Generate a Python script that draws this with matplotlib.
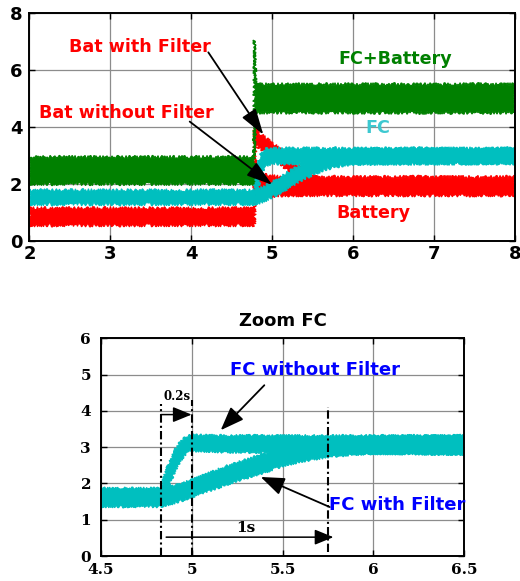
import matplotlib
matplotlib.use('Agg')
import matplotlib.pyplot as plt

plt.rcParams['font.family'] = ['DejaVu Sans']

RED = '#ff0000'
GREEN = '#008000'
CYAN = '#00bfbf'

# ---- top plot: band envelopes (lower / upper) ----
green_t = [2, 4.775, 4.78, 4.785, 4.79, 4.795, 4.80, 8]
green_lo = [2.0, 2.0, 2.0, 4.5, 4.5, 4.5, 4.5, 4.5]
green_hi = [2.95, 2.95, 7.05, 6.0, 6.05, 5.5, 5.5, 5.5]

bat_t = [2, 4.78, 4.785, 4.80, 4.85, 4.95, 5.1, 8]
bat_lo = [0.55, 0.55, 1.4, 1.45, 1.5, 1.55, 1.6, 1.6]
bat_hi = [1.15, 1.15, 2.8, 2.5, 2.35, 2.3, 2.25, 2.25]

batf_t = [4.78, 4.80, 4.90, 5.0, 5.1, 5.2, 5.3, 5.45, 5.6]
batf_lo = [1.6, 3.35, 3.15, 2.95, 2.7, 2.45, 2.25, 2.0, 1.7]
batf_hi = [3.95, 3.9, 3.65, 3.45, 3.2, 2.95, 2.7, 2.35, 2.2]

fc_t = [2, 4.78, 4.80, 4.83, 4.87, 4.92, 5.0, 8]
fc_lo = [1.29, 1.29, 1.4, 1.9, 2.4, 2.65, 2.72, 2.72]
fc_hi = [1.78, 1.78, 2.2, 2.8, 3.1, 3.22, 3.25, 3.25]

fcf_t = [4.78, 4.9, 5.0, 5.2, 5.4, 5.6, 5.8, 6.0, 8]
fcf_lo = [1.29, 1.4, 1.55, 1.85, 2.2, 2.45, 2.62, 2.7, 2.72]
fcf_hi = [1.78, 1.9, 2.05, 2.42, 2.76, 3.0, 3.15, 3.22, 3.25]

# ---- bottom plot (zoom on FC) ----
z_t = [4.5, 4.83, 4.85, 4.87, 4.90, 4.93, 4.96, 5.0, 5.2, 6.5]
z_lo = [1.36, 1.36, 1.5, 1.85, 2.25, 2.55, 2.78, 2.9, 2.86, 2.8]
z_hi = [1.87, 1.87, 2.2, 2.5, 2.85, 3.1, 3.28, 3.34, 3.32, 3.32]

zf_t = [4.83, 4.9, 5.0, 5.1, 5.2, 5.3, 5.4, 5.5, 5.6, 5.75, 5.9, 6.0, 6.5]
zf_lo = [1.36, 1.45, 1.62, 1.8, 1.98, 2.15, 2.3, 2.48, 2.6, 2.73, 2.8, 2.82, 2.8]
zf_hi = [1.87, 1.93, 2.1, 2.3, 2.5, 2.66, 2.82, 2.96, 3.07, 3.2, 3.27, 3.3, 3.33]

top_xticks = [2, 3, 4, 5, 6, 7, 8]
top_yticks = [0, 2, 4, 6, 8]
bot_xticks = [4.5, 5, 5.5, 6, 6.5]
bot_xlabels = ['4.5', '5', '5.5', '6', '6.5']
bot_yticks = [0, 1, 2, 3, 4, 5, 6]


def band(ax, t, lo, hi, color, rough=1.6):
    # closed outline: along the lower edge, back along the upper edge
    xs = list(t) + list(t)[::-1]
    ys = list(lo) + list(hi)[::-1]
    poly, = ax.fill(xs, ys, color=color, lw=0.8, zorder=2)
    poly.set_sketch_params(rough, 2.0, 3.0)   # ragged, noisy-looking edges
    return poly


def style(ax):
    ax.grid(True, color='#8c8c8c', lw=0.9)
    ax.set_axisbelow(True)
    ax.tick_params(direction='in', top=True, right=True, length=4, width=1)
    for s in ax.spines.values():
        s.set_linewidth(1.4)


fig = plt.figure(figsize=(5.2, 5.81), dpi=100)

ax1 = fig.add_axes([0.0567, 0.5852, 0.9337, 0.3924])
band(ax1, bat_t, bat_lo, bat_hi, RED)
band(ax1, batf_t, batf_lo, batf_hi, RED)
band(ax1, green_t, green_lo, green_hi, GREEN)
band(ax1, fcf_t, fcf_lo, fcf_hi, CYAN)
band(ax1, fc_t, fc_lo, fc_hi, CYAN)
ax1.set_xlim(2, 8)
ax1.set_ylim(0, 8)
ax1.set_xticks(top_xticks)
ax1.set_yticks(top_yticks)
style(ax1)
for lab in ax1.get_xticklabels() + ax1.get_yticklabels():
    lab.set_fontsize(13)
    lab.set_fontweight('bold')
ax1.tick_params(axis='x', pad=3)
ax1.tick_params(axis='y', pad=5)

big = dict(arrowstyle='-|>,head_length=1.6,head_width=0.5', color='k',
           lw=1.3, mutation_scale=10, shrinkA=0, shrinkB=0)
ax1.annotate('', xy=(4.89, 3.73), xytext=(4.21, 6.62), arrowprops=big, zorder=5)
ax1.annotate('', xy=(5.0, 1.97), xytext=(3.98, 4.19), arrowprops=big, zorder=5)
tk = dict(fontsize=12.6, fontweight='bold', ha='center', va='center', zorder=6)
ax1.text(3.37, 6.8, 'Bat with Filter', color=RED, **tk)
ax1.text(3.2, 4.5, 'Bat without Filter', color=RED, **tk)
ax1.text(6.52, 6.37, 'FC+Battery', color=GREEN, **tk)
ax1.text(6.31, 3.98, 'FC', color='#3cc8d0', **tk)
ax1.text(6.25, 0.99, 'Battery', color=RED, **tk)

ax2 = fig.add_axes([0.1937, 0.0430, 0.6992, 0.3745])
band(ax2, zf_t, zf_lo, zf_hi, CYAN, rough=1.2)
band(ax2, z_t, z_lo, z_hi, CYAN, rough=1.2)
ax2.set_xlim(4.5, 6.5)
ax2.set_ylim(0, 6)
ax2.set_xticks(bot_xticks)
ax2.set_xticklabels(bot_xlabels)
ax2.set_yticks(bot_yticks)
style(ax2)
for lab in ax2.get_xticklabels() + ax2.get_yticklabels():
    lab.set_fontfamily('DejaVu Serif')
    lab.set_fontsize(11)
    lab.set_fontweight('bold')
ax2.tick_params(axis='x', pad=5)
ax2.tick_params(axis='y', pad=7)
ax2.set_title('Zoom FC', fontsize=13, fontweight='bold', pad=9)

dd = (0, (4, 1.5, 1, 1.5))
ax2.plot([4.83, 4.83], [0, 4.18], color='k', lw=1.5, ls=dd, zorder=4)
ax2.plot([5.0, 5.0], [0, 4.3], color='k', lw=1.5, ls=dd, zorder=4)
ax2.plot([5.75, 5.75], [0.1, 4.12], color='k', lw=1.5, ls=dd, zorder=4)

small = dict(arrowstyle='-|>,head_length=1.15,head_width=0.47', color='k',
             lw=1.1, mutation_scale=10, shrinkA=0, shrinkB=0)
mid = dict(arrowstyle='-|>,head_length=1.45,head_width=0.55', color='k',
           lw=1.3, mutation_scale=10, shrinkA=0, shrinkB=0)
ax2.annotate('', xy=(5.0, 3.9), xytext=(4.83, 3.9), arrowprops=small, zorder=5)
ax2.annotate('', xy=(5.78, 0.52), xytext=(4.86, 0.52), arrowprops=small, zorder=5)
ax2.annotate('', xy=(5.16, 3.47), xytext=(5.40, 4.71), arrowprops=mid, zorder=5)
ax2.annotate('', xy=(5.38, 2.18), xytext=(5.76, 1.35), arrowprops=mid, zorder=5)

bk = dict(fontsize=13, fontweight='bold', ha='center', va='center',
          color='#0000ff', zorder=6)
ax2.text(5.68, 5.12, 'FC without Filter', **bk)
ax2.text(6.13, 1.40, 'FC with Filter', **bk)
ax2.text(4.92, 4.39, '0.2s', fontsize=8.5, fontweight='bold',
         family='DejaVu Serif', ha='center', va='center', zorder=6)
ax2.text(5.30, 0.76, '1s', fontsize=11, fontweight='bold',
         family='DejaVu Serif', ha='center', va='center', zorder=6)

fig.savefig('out.png', dpi=100)
